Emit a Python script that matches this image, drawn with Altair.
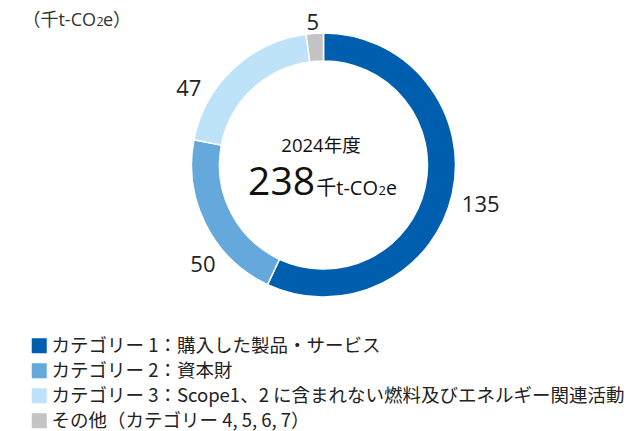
import altair as alt
import pandas as pd

categories = [
    "カテゴリー 1：購入した製品・サービス",
    "カテゴリー 2：資本財",
    "カテゴリー 3：Scope1、2 に含まれない燃料及びエネルギー関連活動",
    "その他（カテゴリー 4, 5, 6, 7）",
]
values = [135, 50, 47, 5]
colors = ["#005EAE", "#64A8DC", "#BEE3F8", "#C4C4C4"]
year_label = "2024年度"
total_label = "238"
unit_parts = ["千t-CO", "2", "e"]
axis_unit_parts = ["（千t-CO", "2", "e）"]

FONT = "Noto Sans CJK JP"
MIX_FONT = "'Open Sans', 'Noto Sans CJK JP'"
NUM_FONT = "Open Sans"
W, H = 625, 423
CX, CY = 315.5, 157
R_OUT, R_IN = 132, 104

df = pd.DataFrame({"cat": categories, "value": values, "order": list(range(len(values)))})
total = sum(values)

base = alt.Chart(df).transform_window(
    end="sum(value)", sort=[alt.SortField("order")], frame=[None, 0]
).transform_calculate(
    start="datum.end - datum.value", mid="(datum.end - datum.value/2)"
)

theta_scale = alt.Scale(domain=[0, total])

arcs = base.mark_arc(
    outerRadius=R_OUT, innerRadius=R_IN, stroke="white", strokeWidth=1.5
).encode(
    theta=alt.Theta("start:Q", scale=theta_scale),
    theta2="end:Q",
    x=alt.value(CX),
    y=alt.value(CY),
    color=alt.Color(
        "cat:N",
        scale=alt.Scale(domain=categories, range=colors),
        sort=categories,
        legend=alt.Legend(
            title=None,
            orient="none",
            legendX=22,
            legendY=328.5,
            direction="vertical",
            symbolType="square",
            symbolSize=225,
            symbolStrokeWidth=0,
            labelFont=FONT,
            labelFontSize=18.5,
            labelColor="#222222",
            labelLimit=700,
            labelOffset=3,
            rowPadding=6,
            padding=0,
        ),
    ),
)

# label radius and offsets per slice (Excel-like label placement)
label_style = [
    (160, 1, 5),
    (160, 22, 27),
    (160, -25, 40),
    (145, -1, 2.5),
]
label_layers = []
for cat, (r, dx, dy) in zip(categories, label_style):
    label_layers.append(
        base.transform_filter(alt.datum.cat == cat).mark_text(
            radius=r, dx=dx, dy=dy, font=NUM_FONT, fontSize=22, fontWeight=400,
            color="#222222", align="center", baseline="middle",
        ).encode(
            theta=alt.Theta("mid:Q", scale=theta_scale),
            x=alt.value(CX),
            y=alt.value(CY),
            text=alt.Text("value:Q"),
        )
    )

def note(txt, x, y, size, align="left", baseline="alphabetic", weight=400,
         color="#111111", font=MIX_FONT):
    return alt.Chart(pd.DataFrame({"t": [txt]})).mark_text(
        font=font, fontSize=size, align=align, baseline=baseline,
        fontWeight=weight, color=color,
    ).encode(text="t:N", x=alt.value(x), y=alt.value(y))

texts = [
    # top-left unit
    note(axis_unit_parts[0], 88, 17.5, 18, align="right", color="#333333"),
    note(axis_unit_parts[1], 88.5, 17.5, 12.5, align="left", color="#333333"),
    note(axis_unit_parts[2], 95, 17.5, 18, align="left", color="#333333"),
    # center
    note(year_label, 313, 138, 18.5, align="center", baseline="middle"),
    note(total_label, 307, 187, 39, align="right", font=NUM_FONT),
    note(unit_parts[0], 370, 187, 20, align="right"),
    note(unit_parts[1], 370.5, 187, 13, align="left"),
    note(unit_parts[2], 378, 187, 19.5, align="left"),
]

chart = alt.layer(arcs, *label_layers, *texts).properties(
    width=W, height=H, padding=0,
    autosize=alt.AutoSizeParams(type="none"),
).configure_view(stroke=None)

chart.save("out.html", embed_options={"renderer": "svg", "actions": False})
